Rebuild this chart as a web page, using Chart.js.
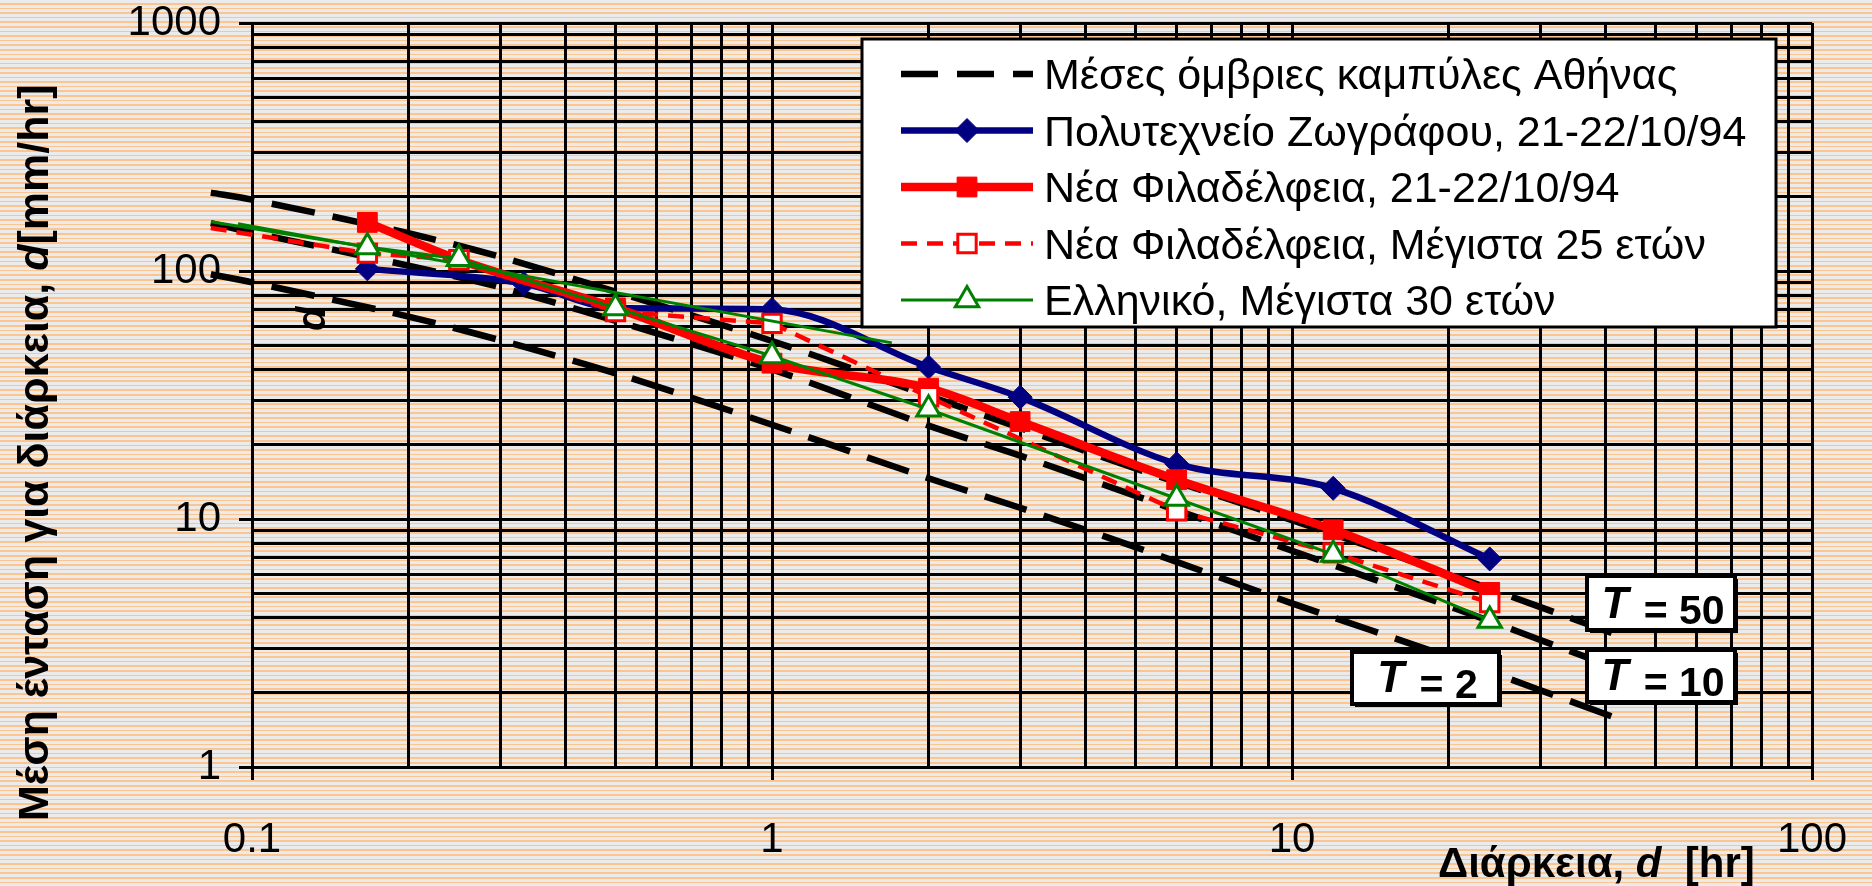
<!DOCTYPE html>
<html>
<head>
<meta charset="utf-8">
<script src="https://cdn.jsdelivr.net/npm/chart.js@4.4.0/dist/chart.umd.min.js"></script>
<style>
  html, body { margin: 0; padding: 0; }
  body {
    width: 1872px; height: 886px; overflow: hidden;
    background-color: #ebebeb;
    background-image: repeating-linear-gradient(to bottom, #ebebeb 0px, #ebebeb 3px, #fcc58f 3px, #fcc58f 4.6px);
  }
  canvas { display: block; }
</style>
</head>
<body>
<canvas id="grafico" width="1872" height="886"></canvas>
<script>
// Datos (duración en hr, intensidad en mm/hr)
const nombresSeries = [
  'Μέσες όμβριες καμπύλες Αθήνας',
  'Πολυτεχνείο Ζωγράφου, 21-22/10/94',
  'Νέα Φιλαδέλφεια, 21-22/10/94',
  'Νέα Φιλαδέλφεια, Μέγιστα 25 ετών',
  'Ελληνικό, Μέγιστα 30 ετών'
];
const periodosRetorno = ['50', '10', '2'];
const etiquetasX = ['0.1', '1', '10', '100'];
const etiquetasY = ['1', '10', '100', '1000'];

// curvas medias de Atenas (T = 50, 10, 2)
const durIDF = [5/60, 0.1, 0.2, 0.3, 0.5, 1, 2, 3, 5, 10, 20, 44];
const idfT50 = [207, 194, 142, 114, 82.5, 52.2, 31.4, 23.3, 16.0, 9.9, 6.0, 3.3];
const idfT10 = [156, 143, 105, 86, 63, 40.1, 23.8, 18.0, 12.4, 7.45, 4.46, 2.41];
const idfT2  = [97, 90, 65.5, 52.6, 38.7, 24.0, 14.6, 11.1, 7.7, 4.57, 2.78, 1.52];

const durZografou = [1/6, 1/3, 0.5, 1, 2, 3, 6, 12, 24];
const intZografou = [102, 89, 71, 70, 41, 31, 16.7, 13.3, 6.9];

const durFiladelfeia = [1/6, 0.25, 0.5, 1, 2, 3, 6, 12, 24];
const intFiladelfeia = [157, 111, 71, 42.5, 33.7, 24.7, 14.4, 9.05, 5.06];

const durFilMax = [1/12, 1/6, 0.25, 0.5, 1, 2, 6, 12, 24];
const intFilMax = [149, 118, 111, 68.6, 61.5, 31.1, 10.8, 7.3, 4.6];

const durElliniko = [1/12, 1/6, 0.25, 0.5, 1, 2, 6, 12, 24];
const intElliniko = [158, 125, 112, 71, 45.4, 27.7, 12.1, 7.2, 3.9];

// linea verde fina sin marcadores
const durEllinikoRecta = [0.094, 1.7];
const intEllinikoRecta = [155, 51.3];

function puntos(xs, ys) {
  return xs.map((x, i) => ({ x: x, y: ys[i] }));
}

function esDecada(v) {
  const l = Math.log10(v);
  return Math.abs(l - Math.round(l)) < 1e-9;
}

// todas las lineas de la rejilla: 1..9 x 10^n
function rejillaLog(axis) {
  const t = [];
  const e0 = Math.round(Math.log10(axis.min)), e1 = Math.round(Math.log10(axis.max));
  for (let e = e0; e < e1; e++) {
    for (let s = 1; s < 10; s++) t.push({ value: parseFloat((s * Math.pow(10, e)).toPrecision(4)) });
  }
  t.push({ value: axis.max });
  axis.ticks = t;
}

// sin relleno extra por las etiquetas: el area del grafico queda fija
function sinRelleno(s) {
  s.paddingLeft = 0; s.paddingRight = 0; s.paddingTop = 0; s.paddingBottom = 0;
}

const FUENTE = '"Liberation Sans", Arial, sans-serif';

const lineaIDF = {
  borderColor: '#000', borderWidth: 6.5, borderDash: [44, 18],
  pointRadius: 0, tension: 0.3, clip: false, order: 10
};

const datasets = [
  Object.assign({ label: nombresSeries[0], data: puntos(durIDF, idfT50) }, lineaIDF),
  Object.assign({ label: nombresSeries[0], data: puntos(durIDF, idfT10) }, lineaIDF),
  Object.assign({ label: nombresSeries[0], data: puntos(durIDF, idfT2) }, lineaIDF),
  {
    label: nombresSeries[1], data: puntos(durZografou, intZografou),
    borderColor: '#000080', borderWidth: 6.5, cubicInterpolationMode: 'monotone',
    pointStyle: 'rectRot', pointRadius: 12, pointBackgroundColor: '#000080',
    pointBorderColor: '#000080', pointBorderWidth: 1, clip: false, order: 4
  },
  {
    label: nombresSeries[2], data: puntos(durFiladelfeia, intFiladelfeia),
    borderColor: '#ff0000', borderWidth: 8.5, cubicInterpolationMode: 'monotone',
    pointStyle: 'rect', pointRadius: 14, pointBackgroundColor: '#ff0000',
    pointBorderColor: '#ff0000', pointBorderWidth: 1, clip: false, order: 3
  },
  {
    label: nombresSeries[3], data: puntos(durFilMax, intFilMax),
    borderColor: '#ff0000', borderWidth: 4.5, borderDash: [16, 10], tension: 0,
    pointStyle: 'rect', pointRadius: 13, pointBackgroundColor: '#ffffff',
    pointBorderColor: '#ff0000', pointBorderWidth: 3, clip: false, order: 2
  },
  {
    label: nombresSeries[4], data: puntos(durElliniko, intElliniko),
    borderColor: '#008000', borderWidth: 3, tension: 0,
    pointStyle: 'triangle', pointRadius: 13.5, pointBackgroundColor: '#ffffff',
    pointBorderColor: '#008000', pointBorderWidth: 3, clip: false, order: 1
  },
  {
    label: '', data: puntos(durEllinikoRecta, intEllinikoRecta),
    borderColor: '#008000', borderWidth: 3, tension: 0,
    pointRadius: 0, clip: false, order: 1
  }
];

// indices de datasets para cada entrada de la leyenda
const entradasLeyenda = [0, 3, 4, 5, 6];

function textoMixto(c, partes, x, y) {
  let cx = x;
  partes.forEach(p => {
    c.font = p[1];
    c.fillText(p[0], cx, y);
    cx += c.measureText(p[0]).width;
  });
  return cx - x;
}

const extrasPlugin = {
  id: 'extras',
  afterDraw(chart) {
    const c = chart.ctx;
    const H = Chart.helpers;
    c.save();

    // --- leyenda ---
    c.fillStyle = '#ffffff';
    c.fillRect(862, 39, 914, 288);
    c.lineWidth = 3;
    c.strokeStyle = '#000';
    c.setLineDash([]);
    c.strokeRect(862, 39, 914, 288);

    entradasLeyenda.forEach((idx, i) => {
      const d = chart.data.datasets[idx];
      const y = 74 + i * 56.5;
      c.save();
      c.strokeStyle = d.borderColor;
      c.lineWidth = d.borderWidth;
      c.setLineDash(idx === 0 ? [37, 19] : (d.borderDash || []));
      c.beginPath();
      c.moveTo(901, y);
      c.lineTo(1033, y);
      c.stroke();
      c.setLineDash([]);
      if (d.pointRadius > 0) {
        c.fillStyle = d.pointBackgroundColor;
        c.strokeStyle = d.pointBorderColor;
        c.lineWidth = d.pointBorderWidth;
        H.drawPoint(c, { pointStyle: d.pointStyle, radius: d.pointRadius, rotation: 0, borderWidth: d.pointBorderWidth }, 967, y);
      }
      c.restore();
      c.fillStyle = '#000';
      c.font = '43px ' + FUENTE;
      c.textBaseline = 'alphabetic';
      c.textAlign = 'left';
      c.fillText(nombresSeries[i], 1044, y + 15);
    });

    // --- cajas de periodo de retorno ---
    const cajas = [
      { x: 1587, y: 576, w: 148, h: 54 },
      { x: 1587, y: 650, w: 148, h: 52 },
      { x: 1352, y: 652, w: 147, h: 52 }
    ];
    const fB = 'bold 41px ' + FUENTE;
    const fBI = 'italic bold 44px ' + FUENTE;
    cajas.forEach((b, i) => {
      c.fillStyle = '#000';
      c.fillRect(b.x + 3, b.y + 3, b.w, b.h);
      c.fillStyle = '#fff';
      c.fillRect(b.x, b.y, b.w, b.h);
      c.lineWidth = 4;
      c.strokeStyle = '#000';
      c.strokeRect(b.x, b.y, b.w, b.h);
      c.fillStyle = '#000';
      c.font = fBI;
      const wT = c.measureText('T').width;
      c.font = fB;
      const resto = ' = ' + periodosRetorno[i];
      const wR = c.measureText(resto).width;
      const x0 = b.x + (b.w - wT - wR) / 2;
      c.font = fBI;
      c.fillText('T', x0, b.y + b.h - 12);
      c.font = fB;
      c.fillText(resto, x0 + wT + 4, b.y + b.h - 6);
    });

    // --- titulos de ejes ---
    const tB = 'bold 42px ' + FUENTE;
    const tBI = 'italic bold 42px ' + FUENTE;
    c.fillStyle = '#000';
    c.textBaseline = 'alphabetic';
    textoMixto(c, [['Διάρκεια, ', tB], ['d', tBI], ['  [hr]', tB]], 1438, 877);

    const yB = 'bold 43px ' + FUENTE;
    const yBI = 'italic bold 43px ' + FUENTE;
    c.save();
    c.translate(48, 821);
    c.rotate(-Math.PI / 2);
    textoMixto(c, [['Μέση ένταση για διάρκεια, ', yB], ['d', yBI], ['[mm/hr]', yB]], 0, 0);
    c.restore();

    // letra suelta "d" dentro del grafico
    c.save();
    c.translate(325, 331);
    c.rotate(-Math.PI / 2);
    c.font = 'italic bold 40px ' + FUENTE;
    c.fillText('d', 0, 0);
    c.restore();

    c.restore();
  }
};

const ejeComun = {
  type: 'logarithmic',
  afterBuildTicks: rejillaLog,
  grid: {
    color: '#000',
    lineWidth: 3,
    tickLength: 13,
    tickColor: (ctx) => (ctx.tick && esDecada(ctx.tick.value)) ? '#000' : 'rgba(0,0,0,0)'
  },
  border: { color: '#000', width: 3 }
};

new Chart(document.getElementById('grafico').getContext('2d'), {
  type: 'line',
  data: { datasets: datasets },
  options: {
    responsive: false,
    animation: false,
    devicePixelRatio: 1,
    events: [],
    layout: { padding: { left: 0, right: 60, top: 23, bottom: 0 } },
    plugins: { legend: { display: false }, tooltip: { enabled: false } },
    scales: {
      x: Object.assign({}, ejeComun, {
        min: 0.1, max: 100,
        afterFit: (s) => { s.height = 119; sinRelleno(s); },
        ticks: {
          autoSkip: false, maxRotation: 0, padding: 39, color: '#000',
          font: { family: FUENTE, size: 42, lineHeight: 1 },
          callback: (v) => esDecada(v) ? etiquetasX[Math.round(Math.log10(v)) + 1] : ''
        }
      }),
      y: Object.assign({}, ejeComun, {
        min: 1, max: 1000,
        afterFit: (s) => { s.width = 252; sinRelleno(s); },
        ticks: {
          autoSkip: false, padding: 18, color: '#000',
          font: { family: FUENTE, size: 42, lineHeight: 1 },
          callback: (v) => esDecada(v) ? etiquetasY[Math.round(Math.log10(v))] : ''
        }
      })
    }
  },
  plugins: [extrasPlugin]
});
</script>
</body>
</html>
